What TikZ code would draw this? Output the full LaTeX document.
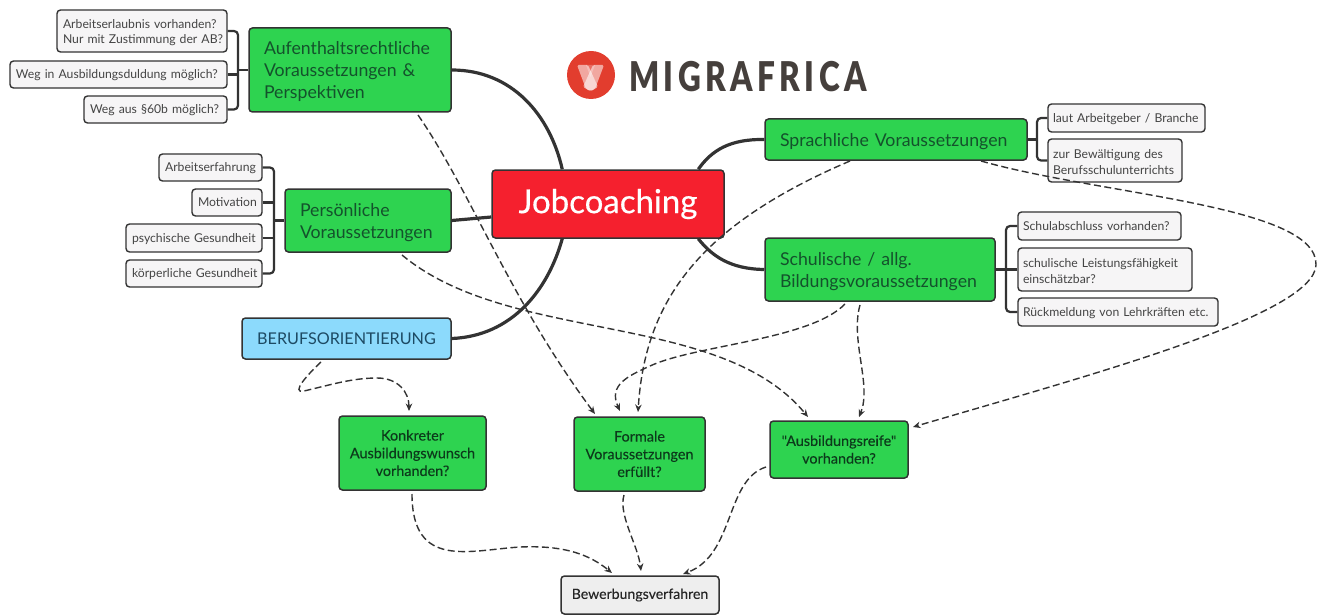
\documentclass[tikz,border=0pt]{standalone}
\usepackage{fontspec}
\usepackage{graphicx}
\setmainfont{Lato}
\newfontfamily\logofont[LetterSpace=14]{Lato Black}
\newfontfamily\askfont[FakeBold=0.15]{Lato}
\newfontfamily\jobfont[FakeBold=0.4]{Lato}
\usetikzlibrary{arrows.meta,calc}
\definecolor{edgedark}{HTML}{333333}
\definecolor{greenfill}{HTML}{2ED350}
\definecolor{redfill}{HTML}{F5202E}
\definecolor{bluefill}{HTML}{8CDAFC}
\definecolor{subfill}{HTML}{F6F5F6}
\definecolor{bewfill}{HTML}{EEEEEE}
\definecolor{greentext}{HTML}{14522C}
\definecolor{asktext}{HTML}{0C3A1B}
\definecolor{subtext}{HTML}{444444}
\definecolor{bluetext}{HTML}{1D4A63}
\definecolor{logored}{HTML}{E23D2E}
\definecolor{logotext}{HTML}{453F3C}
% \mmbox{name}{x1}{y1}{x2}{y2}{style}{text}
\newcommand{\mmbox}[7]{%
  \pgfmathsetmacro{\mmw}{#4-#2}\pgfmathsetmacro{\mmh}{#5-#3}%
  \pgfmathsetmacro{\mmx}{(#2+#4)/2}\pgfmathsetmacro{\mmy}{(#3+#5)/2}%
  \node[#6,minimum width=\mmw pt,minimum height=\mmh pt] (#1) at (\mmx,\mmy) {#7};}
\tikzset{
  basebox/.style={draw=edgedark,rounded corners=3.5pt,inner sep=0pt,line width=1.5pt},
  mainbox/.style={basebox,fill=greenfill,text=greentext,align=left,font=\fontsize{17.7}{22}\selectfont,execute at end node={\par\vspace*{-4pt}}},
  askbox/.style={basebox,fill=greenfill,text=asktext,align=center,font=\askfont\fontsize{14.4}{17.7}\selectfont},
  subbox/.style={basebox,fill=subfill,text=subtext,align=left,line width=1.4pt,font=\fontsize{12.2}{15.2}\selectfont,execute at end node={\par\vspace*{-3pt}}},
  trunk/.style={draw=edgedark,line width=3.2pt},
  bracket/.style={draw=edgedark,line width=2.2pt,rounded corners=4pt},
  flow/.style={draw=edgedark,line width=1.4pt,dash pattern=on 7pt off 3.5pt,-{Stealth[length=7.5pt,width=6.5pt]}},
}
\begin{document}
\begin{tikzpicture}[x=1pt,y=-1pt]
\useasboundingbox (0,0) rectangle (1324,615);
\mmbox{auf}{249}{28}{451}{112}{mainbox,text width=172pt}{Aufenthaltsrechtliche\\Voraussetzungen \&\\Perspektiven}
\mmbox{pers}{285}{189}{451}{252}{mainbox,text width=136pt}{Persönliche\\Voraussetzungen}
\mmbox{job}{492}{170}{724}{238}{basebox,fill=redfill,text=white,font=\jobfont\fontsize{33}{38}\selectfont}{\raisebox{-2pt}{Jobcoaching}}
\mmbox{spr}{765}{119}{1027}{160}{mainbox,text width=232pt}{Sprachliche Voraussetzungen}
\mmbox{schul}{765}{238}{995}{301}{mainbox,text width=200pt}{Schulische / allg.\\Bildungsvoraussetzungen}
\mmbox{beruf}{242}{318}{451}{359}{basebox,fill=bluefill,text=bluetext,font=\fontsize{16.2}{20}\selectfont}{BERUFSORIENTIERUNG}
\draw[trunk] (auf.east) .. controls (512,70) and (550,115) .. ([xshift=71pt]job.north west);
\draw[trunk] (pers.east) -- ([yshift=-13pt]job.west);
\draw[trunk] (beruf.east) .. controls (512,336) and (548,290) .. ([xshift=71pt]job.south west);
\draw[trunk] (spr.west) .. controls (730,139) and (712,150) .. ([xshift=207pt]job.north west);
\draw[trunk] (schul.west) .. controls (730,269) and (712,256) .. ([xshift=207pt]job.south west);
% sub-items
\mmbox{s1}{57}{10}{227}{52}{subbox,text width=158pt}{\mbox{Arbeitserlaubnis vorhanden?}\\\mbox{Nur mit Zustimmung der AB?}}
\mmbox{s2}{10}{61}{227}{88}{subbox,text width=205pt}{\mbox{Weg in Ausbildungsduldung möglich?}}
\mmbox{s3}{84}{96}{227}{123}{subbox,text width=131pt}{\mbox{Weg aus §60b möglich?}}
\mmbox{p1}{159}{154}{262}{181}{subbox,text width=91pt}{\mbox{Arbeitserfahrung}}
\mmbox{p2}{192}{189}{262}{216}{subbox,text width=58pt}{\mbox{Motivation}}
\mmbox{p3}{126}{224}{262}{252}{subbox,text width=124pt}{\mbox{psychische Gesundheit}}
\mmbox{p4}{126}{260}{262}{287}{subbox,text width=124pt}{\mbox{körperliche Gesundheit}}
\mmbox{l1}{1048}{104}{1205}{132}{subbox,text width=147pt}{\mbox{laut Arbeitgeber / Branche}}
\mmbox{l2}{1048}{139}{1182}{182}{subbox,text width=124pt}{\mbox{zur Bewältigung des}\\\mbox{Berufsschulunterrichts}}
\mmbox{c1}{1018}{212}{1181}{240}{subbox,text width=153pt}{\mbox{Schulabschluss vorhanden?}}
\mmbox{c2}{1018}{248}{1192}{291}{subbox,text width=164pt}{\mbox{schulische Leistungsfähigkeit}\\\mbox{einschätzbar?}}
\mmbox{c3}{1018}{298}{1218}{326}{subbox,text width=190pt}{\mbox{Rückmeldung von Lehrkräften etc.}}
% question boxes
\mmbox{kon}{339}{416}{486}{490}{askbox,text width=143pt}{Konkreter\\Ausbildungswunsch\\vorhanden?}
\mmbox{form}{574}{417}{705}{491}{askbox,text width=127pt}{Formale\\Voraussetzungen\\erfüllt?}
\mmbox{reife}{770}{421}{908}{478}{askbox,text width=134pt}{"Ausbildungsreife"\\vorhanden?}
\mmbox{bew}{561}{576}{719}{614}{basebox,fill=bewfill,text=black!85,font=\askfont\fontsize{14.1}{17}\selectfont}{\raisebox{-1.5pt}{Bewerbungsverfahren}}
% brackets
\draw[bracket] (s1.east) -- (238,31) -- (238,109.5) -- (s3.east);
\draw[bracket] (auf.west) -- (238,70);
\draw[bracket] (s2.east) -- (238,74.5);
\draw[bracket] (p1.east) -- (274,167.5) -- (274,273.5) -- (p4.east);
\draw[bracket] (p2.east) -- (274,202.5);
\draw[bracket] (p3.east) -- (274,238);
\draw[bracket] (pers.west) -- (274,220.5);
\draw[bracket] (spr.east) -- (1037,139.5);
\draw[bracket] (l1.west) -- (1037,118) -- (1037,160.5) -- (l2.west);
\draw[bracket] (schul.east) -- (c2.west);
\draw[bracket] (c1.west) -- (1006,226) -- (1006,312) -- (c3.west);
% dashed flows
\coordinate (a1) at (418,115); \coordinate (a2) at (595,414);
\draw[flow] (a1) .. controls (470,190) and (510,300) .. (a2);
\coordinate (b1) at (402,255); \coordinate (b2) at (808,417);
\draw[flow] (b1) .. controls (510,345) and (720,310) .. (b2);
\coordinate (c01) at (850,161); \coordinate (c02) at (638,412);
\draw[flow] (c01) .. controls (700,225) and (645,300) .. (c02);
\coordinate (d1) at (845,304); \coordinate (d2) at (620,411);
\draw[flow] (d1) .. controls (810,340) and (695,345) .. (650,366) .. controls (628,376) and (608,385) .. (d2);
\coordinate (e1) at (860,305); \coordinate (e2) at (859,417);
\draw[flow] (e1) .. controls (850,340) and (872,385) .. (e2);
\coordinate (f1) at (981,161); \coordinate (f2) at (913,427);
\draw[flow] (f1) .. controls (1100,195) and (1318,205) .. (1316,265) .. controls (1314,315) and (1090,375) .. (f2);
\coordinate (g1) at (321,362); \coordinate (g2) at (409,411);
\draw[flow] (g1) .. controls (308,374) and (290,394) .. (304,391) .. controls (330,385) and (352,378) .. (377,378) .. controls (398,378) and (409,392) .. (g2);
\coordinate (h1) at (412,494); \coordinate (h2) at (612,573);
\draw[flow] (h1) .. controls (412,570) and (470,550) .. (520,547) .. controls (565,545) and (590,555) .. (h2);
\coordinate (i1) at (624,495); \coordinate (i2) at (641,571);
\draw[flow] (i1) .. controls (618,515) and (638,545) .. (i2);
\coordinate (j1) at (766,467); \coordinate (j2) at (683,574);
\draw[flow] (j1) .. controls (725,480) and (735,555) .. (j2);
% logo
\fill[logored] (591,75) circle (24);
\fill[white,opacity=.25] (586,65) -- (595,65) -- (590.5,77) -- cycle;
\fill[white,opacity=.55,rounded corners=1.5pt] (577,65) -- (588,65) -- (598,87) -- (591,91) -- (586,89) -- cycle;
\fill[white,opacity=.55,rounded corners=1.5pt] (604,65) -- (593,65) -- (583,87) -- (590,91) -- (595,89) -- cycle;
\node[font=\logofont\fontsize{41}{41}\selectfont,text=logotext,anchor=west,inner sep=0pt] (logo) at (629,76.5) {\scalebox{0.77}[1]{MIGRAFRICA}};
\end{tikzpicture}
\end{document}
